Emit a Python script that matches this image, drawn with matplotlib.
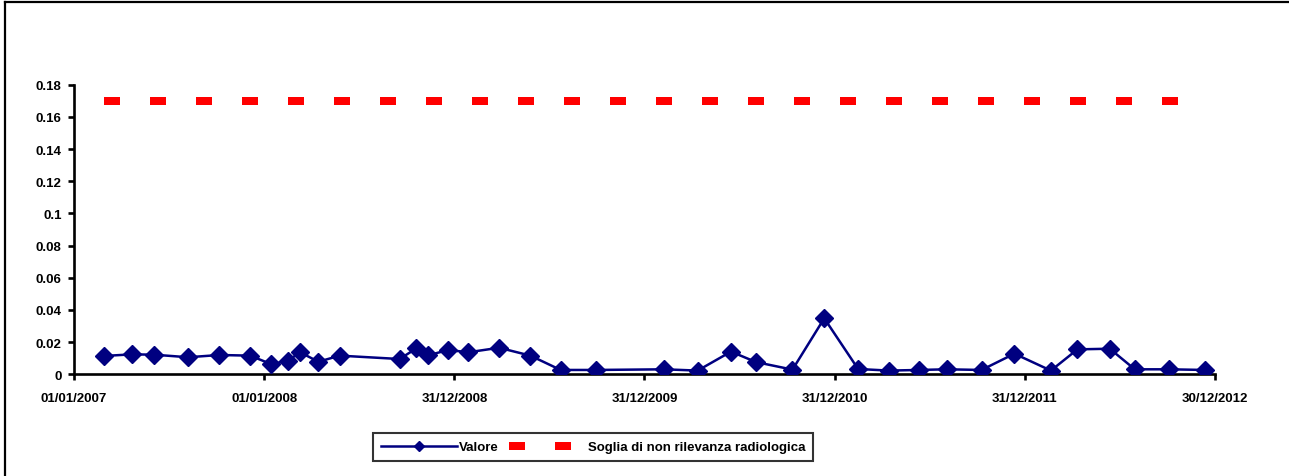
import matplotlib
matplotlib.use("Agg")
import matplotlib.pyplot as plt
import matplotlib.dates as mdates
import pandas as pd
from matplotlib.lines import Line2D

plt.rcParams["font.family"] = ["Liberation Sans", "DejaVu Sans"]
plt.rcParams["font.weight"] = "bold"

# sampling dates and measured values
dates = [
    "2007-02-28", "2007-04-22", "2007-06-03", "2007-08-08", "2007-10-07",
    "2007-12-05", "2008-01-14", "2008-02-15", "2008-03-10", "2008-04-14",
    "2008-05-25", "2008-09-17", "2008-10-19", "2008-11-11", "2008-12-19",
    "2009-01-27", "2009-03-27", "2009-05-26", "2009-07-23", "2009-09-29",
    "2010-02-07", "2010-04-12", "2010-06-15", "2010-08-02", "2010-10-11",
    "2010-12-11", "2011-02-14", "2011-04-14", "2011-06-11", "2011-08-03",
    "2011-10-09", "2011-12-11", "2012-02-19", "2012-04-10", "2012-06-11",
    "2012-07-29", "2012-10-03", "2012-12-10",
]
valore = [
    0.0114, 0.0124, 0.0122, 0.0106, 0.0120,
    0.0116, 0.0064, 0.0083, 0.0137, 0.0078,
    0.0116, 0.0095, 0.0161, 0.0118, 0.0151,
    0.0137, 0.0165, 0.0116, 0.0027, 0.0027,
    0.0031, 0.0023, 0.0141, 0.0076, 0.0029,
    0.0348, 0.0033, 0.0023, 0.0027, 0.0031,
    0.0027, 0.0128, 0.0023, 0.0155, 0.0159,
    0.0031, 0.0031, 0.0027,
]
soglia = 0.17

x_ticks = ["2007-01-01", "2008-01-01", "2008-12-31", "2009-12-31",
           "2010-12-31", "2011-12-31", "2012-12-30"]
y_ticks = [0, 0.02, 0.04, 0.06, 0.08, 0.1, 0.12, 0.14, 0.16, 0.18]
y_labels = ["0", "0.02", "0.04", "0.06", "0.08", "0.1", "0.12", "0.14", "0.16", "0.18"]

t = pd.to_datetime(dates)
xt = pd.to_datetime(x_ticks)

fig = plt.figure(figsize=(12.89, 4.77), dpi=100)
ax = fig.add_axes([74 / 1289, 1 - 375.3 / 477, (1215 - 74) / 1289, (375.3 - 85.7) / 477])

ax.plot(t, valore, color="#000080", lw=1.8, marker="D", ms=9,
        mec="#000080", mfc="#000080", label="Valore", zorder=3)
ax.plot([t[0], t[-1]], [soglia, soglia], color="#ff0000", lw=5.76,
        linestyle=(0, (2.0, 3.75)), solid_capstyle="butt",
        label="Soglia di non rilevanza radiologica", zorder=2)

ax.set_xlim(xt[0], xt[-1])
ax.set_ylim(0, 0.18)
ax.set_xticks(xt)
ax.xaxis.set_major_formatter(mdates.DateFormatter("%d/%m/%Y"))
ax.set_yticks(y_ticks)
ax.set_yticklabels(y_labels)

for side in ("top", "right"):
    ax.spines[side].set_visible(False)
for side in ("left", "bottom"):
    ax.spines[side].set_linewidth(1.9)
ax.tick_params(axis="both", direction="out", length=4, width=1.9,
               labelsize=9.5, color="black")
ax.tick_params(axis="x", pad=9)
ax.tick_params(axis="y", pad=5)
for lbl in ax.get_xticklabels() + ax.get_yticklabels():
    lbl.set_fontweight("bold")

leg = ax.legend(loc="center", bbox_to_anchor=(593 / 1289, 1 - 448 / 477),
                bbox_transform=fig.transFigure, ncol=2, frameon=True,
                fancybox=False, edgecolor="black", fontsize=9.5,
                handlelength=5.8, handletextpad=0.15, columnspacing=0.8,
                borderpad=0.6, markerscale=0.6)
leg.get_frame().set_linewidth(1.5)
for txt in leg.get_texts():
    txt.set_fontweight("bold")

# chart area border (top and left edges)
fig.add_artist(Line2D([5 / 1289, 5 / 1289], [0, 1 - 3 / 477],
                      transform=fig.transFigure, color="black", lw=1.6))
fig.add_artist(Line2D([5 / 1289, 1], [1 - 3 / 477, 1 - 3 / 477],
                      transform=fig.transFigure, color="black", lw=1.6))

fig.savefig("out.png", dpi=100)
